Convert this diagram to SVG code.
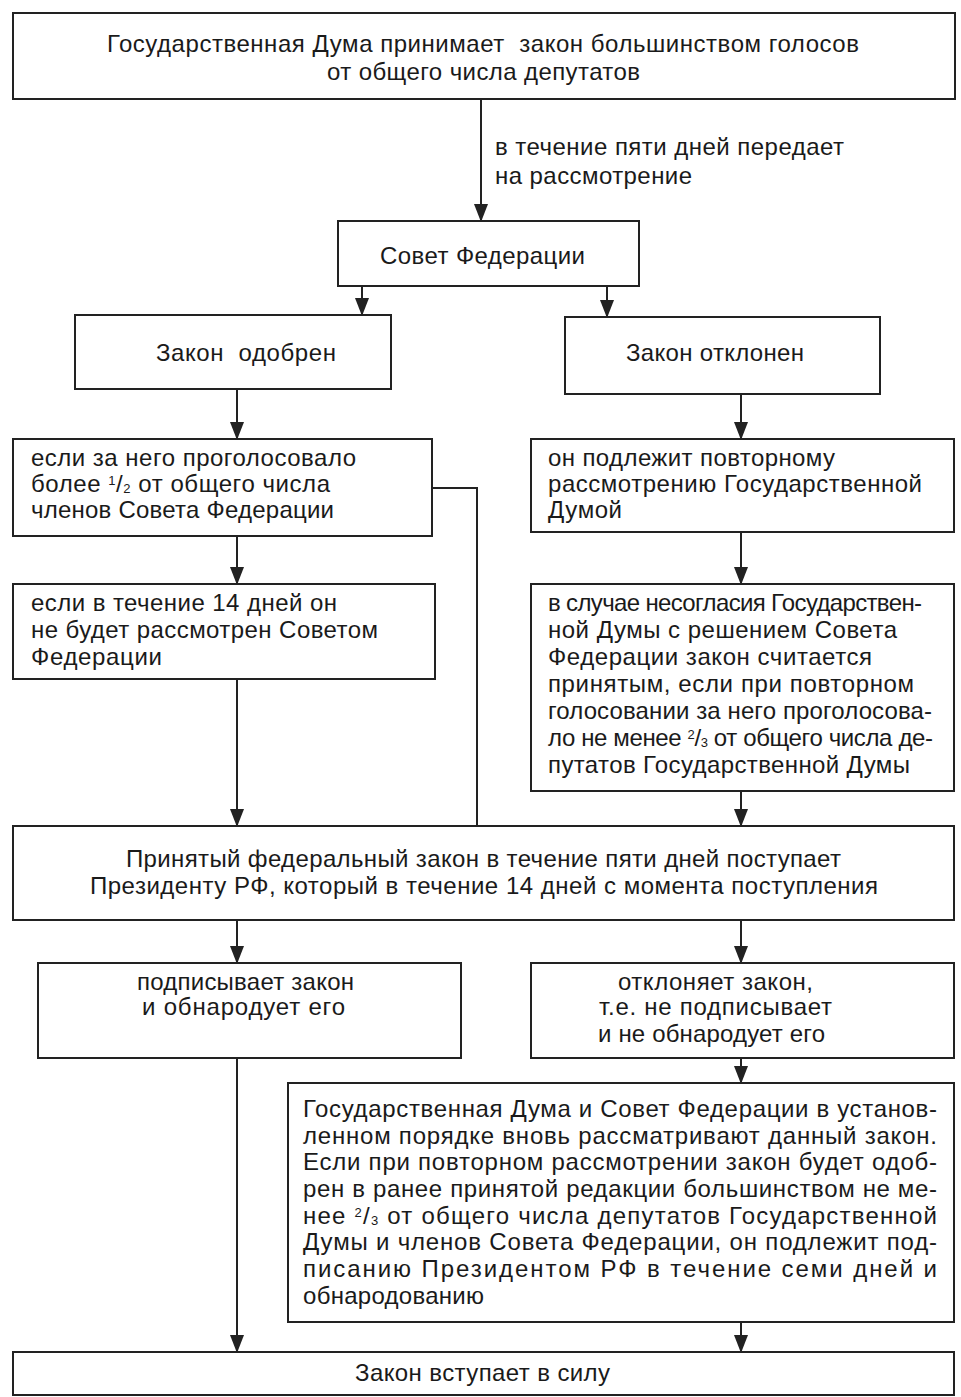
<svg xmlns="http://www.w3.org/2000/svg" width="961" height="1397" viewBox="0 0 961 1397">
<style>
.box{fill:#fff;stroke:#222;stroke-width:2}
.t{font-family:"Liberation Sans",Arial,sans-serif;font-size:24px;fill:#1a1a1a}
.s{font-size:13px}
.c{fill:none;stroke:#222;stroke-width:2}
.a{marker-end:url(#arr)}
</style>
<defs>
<marker id="arr" markerUnits="userSpaceOnUse" markerWidth="14" markerHeight="18" refX="7" refY="17" orient="0" viewBox="0 0 14 18">
<path d="M0,0 L14,0 L7,18 Z" fill="#222"/>
</marker>
</defs>
<rect width="961" height="1397" fill="#fff"/>

<g id="connectors">
<path class="c a" d="M481,99 V221"/>
<path class="c a" d="M362,286 V315"/>
<path class="c a" d="M607,286 V317"/>
<path class="c a" d="M237,389 V439"/>
<path class="c a" d="M741,394 V439"/>
<path class="c" d="M432,488 H477 V826"/>
<path class="c a" d="M237,536 V584"/>
<path class="c a" d="M741,532 V584"/>
<path class="c a" d="M237,679 V826"/>
<path class="c a" d="M741,791 V826"/>
<path class="c a" d="M237,920 V963"/>
<path class="c a" d="M741,920 V963"/>
<path class="c a" d="M741,1058 V1083"/>
<path class="c a" d="M237,1058 V1352"/>
<path class="c a" d="M741,1322 V1352"/>
</g>

<g id="label-transfer">
<text class="t" x="495" y="155" textLength="349">в течение пяти дней передает</text>
<text class="t" x="495" y="184" textLength="197">на рассмотрение</text>
</g>

<g id="n-duma">
<rect class="box" x="13" y="13" width="942" height="86"/>
<text class="t" x="107" y="52" textLength="752" xml:space="preserve">Государственная Дума принимает  закон большинством голосов</text>
<text class="t" x="327" y="80" textLength="313">от общего числа депутатов</text>
</g>

<g id="n-sovet">
<rect class="box" x="338" y="221" width="301" height="65"/>
<text class="t" x="380" y="264" textLength="205">Совет Федерации</text>
</g>

<g id="n-odobren">
<rect class="box" x="75" y="315" width="316" height="74"/>
<text class="t" x="156" y="361" textLength="180" xml:space="preserve">Закон  одобрен</text>
</g>

<g id="n-otklonen">
<rect class="box" x="565" y="317" width="315" height="77"/>
<text class="t" x="626" y="361" textLength="178">Закон отклонен</text>
</g>

<g id="n-bolee-half">
<rect class="box" x="13" y="439" width="419" height="97"/>
<text class="t" x="31" y="466" textLength="325">если за него проголосовало</text>
<text class="t" x="31" y="492" textLength="299">более <tspan class="s" dy="-7">1</tspan><tspan dy="7">/</tspan><tspan class="s" dy="1">2</tspan><tspan dy="-1"> от общего числа</tspan></text>
<text class="t" x="31" y="518" textLength="303">членов Совета Федерации</text>
</g>

<g id="n-povtor">
<rect class="box" x="531" y="439" width="423" height="93"/>
<text class="t" x="548" y="466" textLength="287">он подлежит повторному</text>
<text class="t" x="548" y="492" textLength="374">рассмотрению Государственной</text>
<text class="t" x="548" y="518" textLength="74">Думой</text>
</g>

<g id="n-14days">
<rect class="box" x="13" y="584" width="422" height="95"/>
<text class="t" x="31" y="611" textLength="306">если в течение 14 дней он</text>
<text class="t" x="31" y="638" textLength="347">не будет рассмотрен Советом</text>
<text class="t" x="31" y="665" textLength="131">Федерации</text>
</g>

<g id="n-nesoglasie">
<rect class="box" x="531" y="584" width="423" height="207"/>
<text class="t" x="548" y="611" textLength="374">в случае несогласия Государствен-</text>
<text class="t" x="548" y="638" textLength="349">ной Думы с решением Совета</text>
<text class="t" x="548" y="665" textLength="324">Федерации закон считается</text>
<text class="t" x="548" y="692" textLength="366">принятым, если при повторном</text>
<text class="t" x="548" y="719" textLength="384">голосовании за него проголосова-</text>
<text class="t" x="548" y="746" textLength="385">ло не менее <tspan class="s" dy="-7">2</tspan><tspan dy="7">/</tspan><tspan class="s" dy="1">3</tspan><tspan dy="-1"> от общего числа де-</tspan></text>
<text class="t" x="548" y="773" textLength="362">путатов Государственной Думы</text>
</g>

<g id="n-president">
<rect class="box" x="13" y="826" width="941" height="94"/>
<text class="t" x="126" y="867" textLength="715">Принятый федеральный закон в течение пяти дней поступает</text>
<text class="t" x="90" y="894" textLength="788">Президенту РФ, который в течение 14 дней с момента поступления</text>
</g>

<g id="n-sign">
<rect class="box" x="38" y="963" width="423" height="95"/>
<text class="t" x="137" y="990" textLength="217">подписывает закон</text>
<text class="t" x="142" y="1015" textLength="203">и обнародует его</text>
</g>

<g id="n-reject">
<rect class="box" x="531" y="963" width="423" height="95"/>
<text class="t" x="618" y="990" textLength="195">отклоняет закон,</text>
<text class="t" x="599" y="1015" textLength="233">т.е. не подписывает</text>
<text class="t" x="598" y="1042" textLength="227">и не обнародует его</text>
</g>

<g id="n-override">
<rect class="box" x="288" y="1083" width="666" height="239"/>
<text class="t" x="303" y="1117" textLength="634">Государственная Дума и Совет Федерации в установ-</text>
<text class="t" x="303" y="1144" textLength="634">ленном порядке вновь рассматривают данный закон.</text>
<text class="t" x="303" y="1170" textLength="634">Если при повторном рассмотрении закон будет одоб-</text>
<text class="t" x="303" y="1197" textLength="634">рен в ранее принятой редакции большинством не ме-</text>
<text class="t" x="303" y="1224" textLength="634">нее <tspan class="s" dy="-7">2</tspan><tspan dy="7">/</tspan><tspan class="s" dy="1">3</tspan><tspan dy="-1"> от общего числа депутатов Государственной</tspan></text>
<text class="t" x="303" y="1250" textLength="634">Думы и членов Совета Федерации, он подлежит под-</text>
<text class="t" x="303" y="1277" textLength="634">писанию Президентом РФ в течение семи дней и</text>
<text class="t" x="303" y="1304" textLength="181">обнародованию</text>
</g>

<g id="n-inforce">
<rect class="box" x="13" y="1352" width="941" height="43"/>
<text class="t" x="355" y="1381" textLength="255">Закон вступает в силу</text>
</g>
</svg>
